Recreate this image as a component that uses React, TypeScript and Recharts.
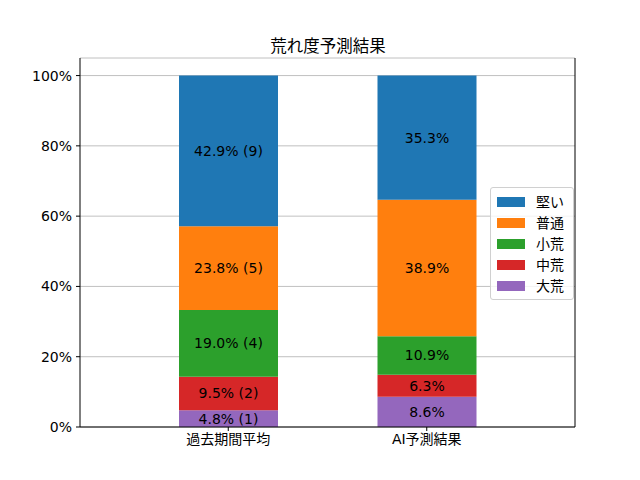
import { BarChart, Bar, XAxis, YAxis, CartesianGrid, LabelList } from "recharts";

const categories = ["過去期間平均", "AI予測結果"];
const daiare = [4.8, 8.6];
const chuare = [9.5, 6.3];
const shoare = [19.0, 10.9];
const futsu = [23.8, 38.9];
const katai = [42.9, 35.3];
// 過去期間の件数 (AI側は件数なし)
const daiareCount = [1, null];
const chuareCount = [2, null];
const shoareCount = [4, null];
const futsuCount = [5, null];
const kataiCount = [9, null];
const yTicks = [0, 20, 40, 60, 80, 100];

const FONT = "'DejaVu Sans', 'Noto Sans CJK JP', sans-serif";

type Serie = { key: string; name: string; values: number[]; counts: (number | null)[]; color: string };

// 下から積み上げる順
const series: Serie[] = [
  { key: "daiare", name: "大荒", values: daiare, counts: daiareCount, color: "#9467bd" },
  { key: "chuare", name: "中荒", values: chuare, counts: chuareCount, color: "#d62728" },
  { key: "shoare", name: "小荒", values: shoare, counts: shoareCount, color: "#2ca02c" },
  { key: "futsu", name: "普通", values: futsu, counts: futsuCount, color: "#ff7f0e" },
  { key: "katai", name: "堅い", values: katai, counts: kataiCount, color: "#1f77b4" },
];

const fmt = (v: number, c: number | null) => (c == null ? `${v.toFixed(1)}%` : `${v.toFixed(1)}% (${c})`);

const data = categories.map((cat, i) => {
  const row: Record<string, string | number> = { cat };
  series.forEach((s) => {
    row[s.key] = s.values[i];
    row[s.key + "_label"] = fmt(s.values[i], s.counts[i]);
  });
  return row;
});

const LegendBox = () => (
  <div
    style={{
      position: "absolute",
      left: 490,
      top: 187,
      background: "rgba(255,255,255,0.8)",
      border: "1px solid #d0d0d0",
      borderRadius: 3,
      padding: "3px 9px 3px 6px",
      fontFamily: FONT,
      fontSize: 14,
      lineHeight: "20px",
    }}
  >
    {[...series].reverse().map((s) => (
      <div key={s.key} style={{ display: "flex", alignItems: "center", height: 21 }}>
        <span style={{ width: 28, height: 10, background: s.color, display: "inline-block", marginRight: 11 }} />
        <span>{s.name}</span>
      </div>
    ))}
  </div>
);

export default function App() {
  return (
    <div style={{ position: "absolute", left: 0, top: 0, width: 640, height: 480, background: "#fff" }}>
      <div
        style={{
          position: "absolute",
          left: 80,
          width: 496,
          top: 33,
          textAlign: "center",
          fontFamily: FONT,
          fontSize: 16.5,
        }}
      >
        荒れ度予測結果
      </div>
      <BarChart
        width={640}
        height={480}
        data={data}
        margin={{ top: 58, right: 64, bottom: 0, left: 0 }}
        style={{ fontFamily: FONT }}
      >
        <CartesianGrid vertical={false} stroke="#b0b0b0" strokeWidth={0.8} yAxisId="left" />
        <XAxis
          dataKey="cat"
          height={53}
          padding={{ left: 49, right: 49 }}
          axisLine={{ stroke: "#000", strokeWidth: 1 }}
          tickLine={{ stroke: "#000" }}
          tickSize={4}
          tick={{ fill: "#000", fontSize: 14 }}
          tickMargin={3}
        />
        <XAxis xAxisId="top" orientation="top" dataKey="cat" height={0} tick={false} tickLine={false} axisLine={{ stroke: "#000" }} />
        <YAxis
          yAxisId="left"
          width={80}
          domain={[0, 105]}
          ticks={yTicks}
          tickFormatter={(v) => `${v}%`}
          axisLine={{ stroke: "#000", strokeWidth: 1 }}
          tickLine={{ stroke: "#000" }}
          tickSize={4}
          tick={{ fill: "#000", fontSize: 14 }}
          tickMargin={4}
        />
        <YAxis yAxisId="right" orientation="right" width={1} domain={[0, 105]} tick={false} tickLine={false} axisLine={{ stroke: "#000" }} />
        {series.map((s) => (
          <Bar
            key={s.key}
            dataKey={s.key}
            name={s.name}
            stackId="a"
            yAxisId="left"
            fill={s.color}
            barSize={99}
            isAnimationActive={false}
          >
            <LabelList dataKey={s.key + "_label"} position="center" fill="#000" fontSize={14} />
          </Bar>
        ))}
      </BarChart>
      <LegendBox />
    </div>
  );
}
